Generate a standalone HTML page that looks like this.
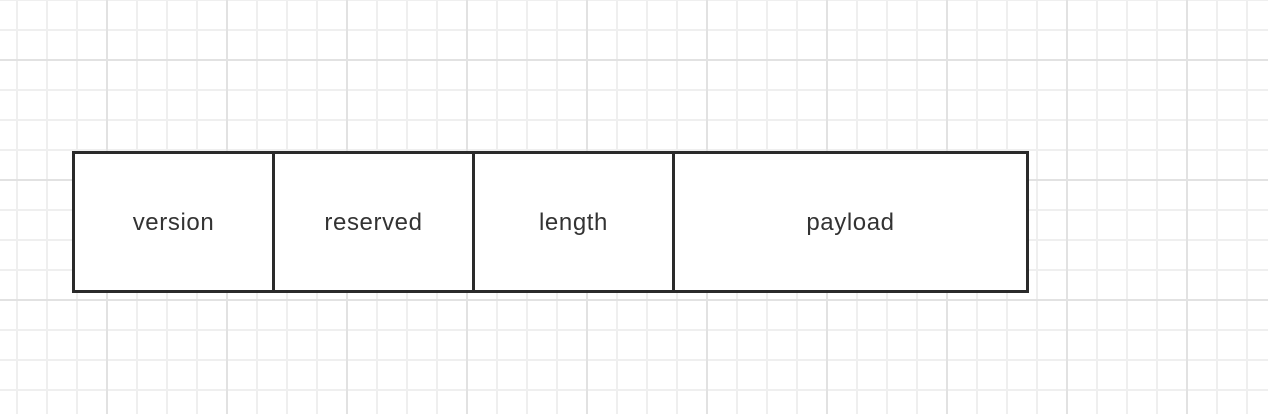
<!DOCTYPE html><html><head><style>
body{margin:0;width:1268px;height:414px;overflow:hidden;background:#fff;
background-image:
linear-gradient(90deg,#e2e2e2 2px,transparent 2px),
linear-gradient(0deg,#e2e2e2 2px,transparent 2px),
linear-gradient(90deg,#efefef 2px,transparent 2px),
linear-gradient(0deg,#efefef 2px,transparent 2px);
background-size:120px 120px,120px 120px,30px 30px,30px 30px;
background-position:106px 0,0 61px,16px 0,0 1px;}
.b{position:absolute;top:151px;height:134px;border:3px solid #2a2a2a;background:#fff;display:flex;align-items:center;justify-content:center;font:24px "Liberation Sans",sans-serif;letter-spacing:0.6px;color:#333;box-sizing:content-box;padding-top:2px}
</style></head><body>
<div class="b" style="left:72px;width:197px">version</div>
<div class="b" style="left:272px;width:197px">reserved</div>
<div class="b" style="left:472px;width:197px">length</div>
<div class="b" style="left:672px;width:351px">payload</div>
</body></html>
